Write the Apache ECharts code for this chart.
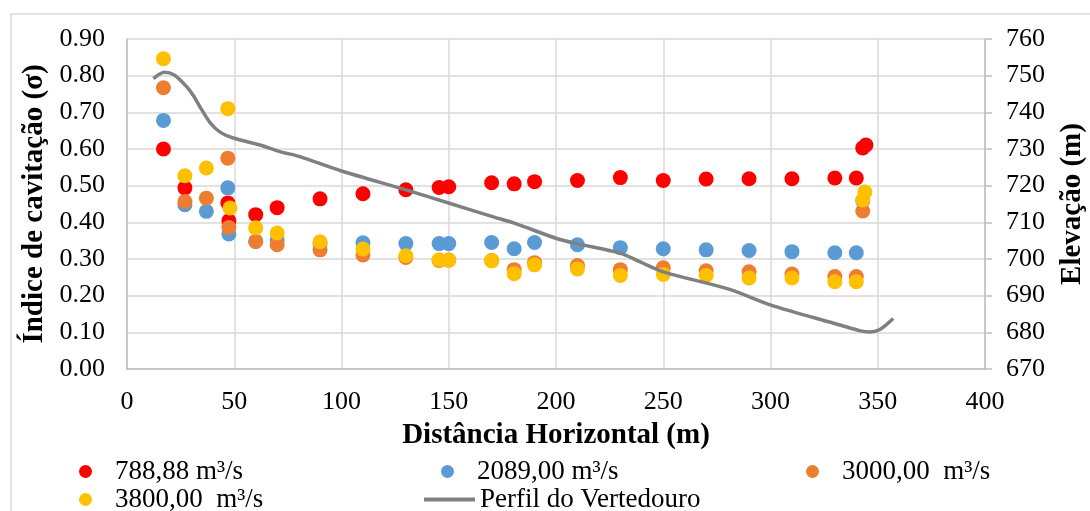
<!DOCTYPE html>
<html>
<head>
<meta charset="utf-8">
<script src="https://cdn.jsdelivr.net/npm/echarts@6/dist/echarts.min.js"></script>
<style>html,body{margin:0;padding:0;background:#fff}#c{width:1090px;height:511px}</style>
</head>
<body>
<div id="c"></div>
<script>
// ---- data ----
const seriesNames = ['788,88 m³/s', '2089,00 m³/s', '3000,00  m³/s', '3800,00  m³/s', 'Perfil do Vertedouro'];
const xTicks = [0, 50, 100, 150, 200, 250, 300, 350, 400];
const sigmaTicks = [0, 0.1, 0.2, 0.3, 0.4, 0.5, 0.6, 0.7, 0.8, 0.9];
const elevTicks = [670, 680, 690, 700, 710, 720, 730, 740, 750, 760];

const q788 = [[17,0.600],[27,0.494],[47,0.453],[47.5,0.404],[60,0.421],[70,0.440],[90,0.464],[110,0.478],[130,0.489],[145.5,0.495],[150,0.497],[170,0.508],[180.5,0.505],[190,0.511],[210,0.514],[230,0.522],[250,0.514],[270,0.518],[290,0.519],[310,0.519],[330,0.521],[340,0.521],[343,0.603],[344.5,0.611]];
const q2089 = [[17,0.678],[27,0.448],[37,0.430],[47,0.494],[47.5,0.368],[60,0.348],[70,0.352],[90,0.342],[110,0.344],[130,0.342],[145.5,0.342],[150,0.342],[170,0.345],[180.5,0.328],[190,0.345],[210,0.339],[230,0.331],[250,0.328],[270,0.325],[290,0.323],[310,0.320],[330,0.317],[340,0.317],[343,0.459]];
const q3000 = [[17,0.767],[27,0.457],[37,0.466],[47,0.575],[47.5,0.386],[60,0.348],[70,0.339],[90,0.325],[110,0.311],[130,0.304],[145.5,0.296],[150,0.297],[170,0.296],[180.5,0.271],[190,0.290],[210,0.282],[230,0.271],[250,0.276],[270,0.268],[290,0.265],[310,0.259],[330,0.252],[340,0.252],[343,0.431]];
const q3800 = [[17,0.846],[27,0.527],[37,0.548],[47,0.710],[48,0.439],[60,0.385],[70,0.371],[90,0.347],[110,0.327],[130,0.309],[145.5,0.298],[150,0.297],[170,0.295],[180.5,0.260],[190,0.284],[210,0.273],[230,0.255],[250,0.258],[270,0.255],[290,0.248],[310,0.248],[330,0.238],[340,0.238],[343,0.461],[344,0.483]];
const perfil = [[12.3,749.2],[17.5,750.9],[22,750.2],[27.5,747.2],[31,744.5],[34,741.5],[38.7,737.2],[43.4,734.6],[49.6,733.0],[62,731.1],[71.3,729.3],[80.6,727.9],[100,724.0],[130.4,718.8],[150.3,715.2],[170.8,711.5],[180.9,709.7],[200.3,705.6],[209.6,704.2],[229.8,701.6],[239,699.3],[250,696.5],[281,691.7],[299.8,687.5],[332.4,682.0],[342,680.4],[346,680.1],[351,680.8],[357.2,683.8]];

const colors = ['#FF0000', '#5B9BD5', '#ED7D31', '#FFC000', '#808080'];
const FONT = '"Liberation Serif", "Times New Roman", serif';

const chart = echarts.init(document.getElementById('c'), null, {renderer: 'canvas'});

function legendItem(name, left, top, isLine) {
  return {
    data: [name], left: left, top: top, orient: 'horizontal',
    icon: isLine ? 'rect' : 'circle',
    itemWidth: isLine ? 51 : 13, itemHeight: isLine ? 4 : 13,
    selectedMode: false,
    textStyle: {fontFamily: FONT, fontSize: 27, color: '#000', padding: [0, 0, 0, isLine ? 0 : 18]},
    padding: 0
  };
}

const scatterSeries = [q788, q2089, q3000, q3800].map((d, i) => ({
  name: seriesNames[i], type: 'scatter', data: d, yAxisIndex: 0,
  symbol: 'circle', symbolSize: 15, itemStyle: {color: colors[i], opacity: 1},
  z: 2 + i
}));

chart.setOption({
  animation: false,
  backgroundColor: '#fff',
  color: colors,
  graphic: [{type: 'rect', shape: {x: 11, y: 14, width: 1100, height: 540}, style: {fill: 'none', stroke: '#d9d9d9', lineWidth: 1.5}, silent: true, z: -1}],
  grid: {left: 127, right: 105, top: 39, bottom: 142, containLabel: false, outerBoundsMode: 'none'},
  legend: [
    legendItem(seriesNames[0], 79, 458, false),
    legendItem(seriesNames[1], 441, 458, false),
    legendItem(seriesNames[2], 806, 458, false),
    legendItem(seriesNames[3], 79, 486, false),
    legendItem(seriesNames[4], 424, 486, true)
  ],
  xAxis: {
    type: 'value', min: 0, max: 400, interval: 50,
    name: 'Distância Horizontal (m)', nameLocation: 'middle', nameGap: 52,
    nameTextStyle: {fontFamily: FONT, fontSize: 29, fontWeight: 'bold', color: '#000'},
    axisLine: {show: true, lineStyle: {color: '#bfbfbf', width: 1.5}},
    axisTick: {show: false},
    axisLabel: {fontFamily: FONT, fontSize: 26, color: '#000', margin: 20, formatter: v => xTicks.includes(v) ? String(v) : ''},
    splitLine: {show: true, lineStyle: {color: '#d9d9d9', width: 1.5}}
  },
  yAxis: [{
    type: 'value', min: 0, max: 0.9, interval: 0.1, position: 'left',
    name: 'Índice de cavitação (σ)', nameLocation: 'middle', nameGap: 75, nameRotate: 90,
    nameTextStyle: {fontFamily: FONT, fontSize: 29, fontWeight: 'bold', color: '#000'},
    axisLine: {show: true, lineStyle: {color: '#bfbfbf', width: 1.5}},
    axisTick: {show: false},
    axisLabel: {fontFamily: FONT, fontSize: 26, color: '#000', margin: 22, formatter: v => v.toFixed(2)},
    splitLine: {show: true, lineStyle: {color: '#d9d9d9', width: 1.5}}
  }, {
    type: 'value', min: 670, max: 760, interval: 10, position: 'right',
    name: 'Elevação (m)', nameLocation: 'middle', nameGap: 73, nameRotate: 90,
    nameTextStyle: {fontFamily: FONT, fontSize: 29, fontWeight: 'bold', color: '#000'},
    axisLine: {show: true, lineStyle: {color: '#bfbfbf', width: 1.5}},
    axisTick: {show: true, inside: false, length: 7, lineStyle: {color: '#bfbfbf', width: 1.5}},
    axisLabel: {fontFamily: FONT, fontSize: 26, color: '#000', margin: 21, formatter: v => elevTicks.includes(v) ? String(v) : ''},
    splitLine: {show: false}
  }],
  series: scatterSeries.concat([{
    name: seriesNames[4], type: 'line', data: perfil, yAxisIndex: 1,
    smooth: 0.3, showSymbol: false, symbol: 'none',
    lineStyle: {color: colors[4], width: 3.5}, itemStyle: {color: colors[4]}, z: 10
  }])
});
</script>
</body>
</html>
